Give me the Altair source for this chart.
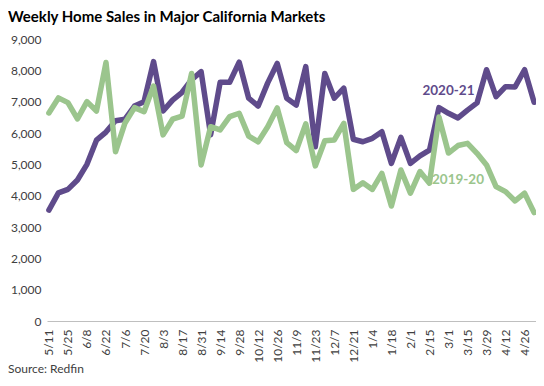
import altair as alt
import pandas as pd

weeks = ["5/11", "5/18", "5/25", "6/1", "6/8", "6/15", "6/22", "6/29", "7/6", "7/13",
         "7/20", "7/27", "8/3", "8/10", "8/17", "8/24", "8/31", "9/7", "9/14", "9/21",
         "9/28", "10/5", "10/12", "10/19", "10/26", "11/2", "11/9", "11/16", "11/23", "11/30",
         "12/7", "12/14", "12/21", "12/28", "1/4", "1/11", "1/18", "1/25", "2/1", "2/8",
         "2/15", "2/22", "3/1", "3/8", "3/15", "3/22", "3/29", "4/5", "4/12", "4/19",
         "4/26", "5/3"]

sales_2020_21 = [3540, 4090, 4200, 4500, 5000, 5770, 6030, 6390, 6440, 6860,
                 7000, 8280, 6700, 7050, 7300, 7700, 7960, 5940, 7620, 7620,
                 8260, 7110, 6860, 7600, 8220, 7110, 6890, 8120, 5560, 7900,
                 7110, 7430, 5800, 5720, 5830, 6040, 5030, 5860, 5030, 5270,
                 5450, 6810, 6630, 6480, 6730, 6960, 8020, 7160, 7480, 7470,
                 8020, 6980]

sales_2019_20 = [6640, 7120, 6970, 6450, 7000, 6700, 8250, 5400, 6320, 6810,
                 6680, 7500, 5940, 6440, 6540, 7900, 4980, 6200, 6100, 6520,
                 6630, 5900, 5720, 6200, 6800, 5690, 5440, 6290, 4950, 5750,
                 5780, 6310, 4200, 4410, 4200, 4710, 3670, 4820, 4080, 4770,
                 4400, 6510, 5360, 5600, 5670, 5350, 4980, 4290, 4130, 3830,
                 4080, 3460]

series_names = ["2020-21", "2019-20"]
series_colors = ["#5f4b8b", "#9bc58d"]
label_weeks = ["3/1", "3/8"]
label_values = [7350, 4500]
y_ticks = [0, 1000, 2000, 3000, 4000, 5000, 6000, 7000, 8000, 9000]

rows = []
for w, a, b in zip(weeks, sales_2020_21, sales_2019_20):
    rows.append({"week": w, "series": series_names[0], "sales": a})
    rows.append({"week": w, "series": series_names[1], "sales": b})
df = pd.DataFrame(rows)

labels_df = pd.DataFrame({"week": label_weeks, "sales": label_values, "series": series_names})

FONT = "Lato"

x_enc = alt.X("week:O", sort=weeks, title=None,
              scale=alt.Scale(type="point", padding=0.2),
              axis=alt.Axis(values=weeks[::2], labelAngle=270, labelAlign="right",
                            labelBaseline="middle", labelPadding=8, ticks=False,
                            domainColor="#bfbfbf", domainWidth=1,
                            labelFont=FONT, labelFontSize=12, labelColor="#404040"))
y_enc = alt.Y("sales:Q", title=None,
              scale=alt.Scale(domain=[0, 9000], nice=False),
              axis=alt.Axis(values=y_ticks, format=",d", grid=False, domain=False, ticks=False,
                            labelOverlap=False, labelPadding=6, labelFont=FONT,
                            labelFontSize=12, labelColor="#404040"))
color_enc = alt.Color("series:N", scale=alt.Scale(domain=series_names, range=series_colors),
                      legend=None)

lines = alt.Chart(df).mark_line(strokeWidth=5.5, strokeJoin="round", strokeCap="round").encode(
    x=x_enc, y=y_enc, color=color_enc, detail="series:N")

texts = alt.Chart(labels_df).mark_text(font=FONT, fontSize=13.5, fontWeight="bold",
                                       align="center", baseline="middle").encode(
    x=x_enc, y=y_enc, text="series:N", color=color_enc)

source = alt.Chart(pd.DataFrame({"t": ["Source: Redfin"]})).mark_text(
    font=FONT, fontSize=12, align="left", baseline="middle", color="#404040").encode(
    x=alt.value(-39), y=alt.value(330), text="t:N")

chart = alt.layer(lines, texts, source).properties(
    width=489, height=282,
    padding={"left": 39, "top": 31, "right": 0, "bottom": 55},
    autosize=alt.AutoSizeParams(type="none"),
    title=alt.TitleParams("Weekly Home Sales in Major California Markets", anchor="start",
                          frame="group", dx=-39, fontSize=15, font=FONT,
                          fontWeight="bold", color="#000000", offset=8),
).configure_view(stroke=None)

chart.save("out.html", embed_options={"renderer": "svg", "actions": False})
